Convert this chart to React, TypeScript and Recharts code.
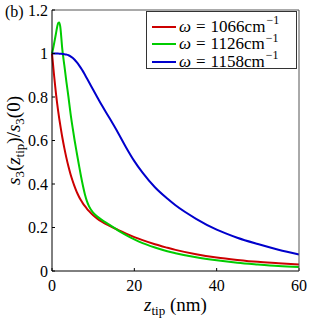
import React from 'react';
import { LineChart, Line, XAxis, YAxis, Legend, Label, Customized } from 'recharts';

const FONT = '"Liberation Serif", "DejaVu Serif", serif';

const zTip = [0, 0.25, 0.5, 0.75, 1, 1.25, 1.5, 1.75, 2, 2.5, 3, 3.5, 4, 4.5, 5, 5.5, 6, 6.5, 7, 7.5, 8, 8.5, 9, 10, 11, 12, 14, 16, 18, 20, 22, 25, 28, 30, 35, 40, 45, 50, 55, 60];
const s1066 = [1.0, 0.95, 0.9, 0.854, 0.81, 0.771, 0.735, 0.702, 0.672, 0.615, 0.565, 0.52, 0.48, 0.445, 0.415, 0.388, 0.364, 0.344, 0.326, 0.311, 0.298, 0.286, 0.275, 0.256, 0.241, 0.228, 0.207, 0.189, 0.172, 0.156, 0.142, 0.123, 0.107, 0.097, 0.077, 0.062, 0.051, 0.042, 0.036, 0.03];
const s1126 = [1.0, 1.02, 1.045, 1.07, 1.096, 1.122, 1.14, 1.143, 1.125, 1.02, 0.945, 0.87, 0.8, 0.725, 0.66, 0.6, 0.545, 0.492, 0.44, 0.393, 0.352, 0.32, 0.297, 0.268, 0.25, 0.236, 0.212, 0.187, 0.165, 0.145, 0.128, 0.108, 0.091, 0.082, 0.063, 0.049, 0.038, 0.03, 0.023, 0.018];
const s1158 = [1.0, 1.0, 1.0, 1.0, 1.0, 1.0, 1.0, 0.999, 0.999, 0.998, 0.997, 0.995, 0.992, 0.987, 0.98, 0.971, 0.96, 0.948, 0.934, 0.919, 0.902, 0.885, 0.868, 0.833, 0.799, 0.765, 0.702, 0.637, 0.568, 0.505, 0.452, 0.385, 0.333, 0.302, 0.24, 0.19, 0.153, 0.124, 0.098, 0.076];

const xTicks = [0, 20, 40, 60];
const yTicks = [0, 0.2, 0.4, 0.6, 0.8, 1, 1.2];
const omegaLabels = ['1066', '1126', '1158'];
const seriesKeys = ['w1066', 'w1126', 'w1158'];
const seriesColors = ['#cc0000', '#00cc00', '#0000cc'];

const data = zTip.map((z, i) => ({ z, w1066: s1066[i], w1126: s1126[i], w1158: s1158[i] }));

const XLabel = (props: any) => {
  const vb = props.viewBox || {};
  const cx = vb.x + vb.width / 2;
  const y = vb.y + 40;
  return (
    <text x={cx} y={y} textAnchor="middle" style={{ fontFamily: FONT, fontSize: 19 }} fill="#000">
      <tspan fontStyle="italic">z</tspan>
      <tspan fontSize={13} dy={4}>tip</tspan>
      <tspan dy={-4}>{'\u00A0(nm)'}</tspan>
    </text>
  );
};

const YLabel = (props: any) => {
  const vb = props.viewBox || {};
  const cy = vb.y + vb.height / 2;
  const x = 19.5;
  return (
    <text x={x} y={cy} transform={`rotate(-90 ${x} ${cy})`} textAnchor="middle" style={{ fontFamily: FONT, fontSize: 19 }} fill="#000">
      <tspan fontStyle="italic">s</tspan>
      <tspan fontSize={13} dy={4}>3</tspan>
      <tspan dy={-4}>(</tspan>
      <tspan fontStyle="italic">z</tspan>
      <tspan fontSize={13} dy={4}>tip</tspan>
      <tspan dy={-4}>)/</tspan>
      <tspan fontStyle="italic">s</tspan>
      <tspan fontSize={13} dy={4}>3</tspan>
      <tspan dy={-4}>(0)</tspan>
    </text>
  );
};

const renderLegend = () => (
  <div
    style={{
      width: 151,
      height: 58,
      boxSizing: 'border-box',
      border: '1px solid #333',
      background: '#fff',
      paddingTop: 6,
      fontFamily: FONT,
      fontSize: 17,
      color: '#000',
    }}
  >
    {omegaLabels.map((w, i) => (
      <div key={w} style={{ height: 17.5, display: 'flex', alignItems: 'center', whiteSpace: 'nowrap' }}>
        <span style={{ display: 'inline-block', width: 24, height: 2, background: seriesColors[i], marginLeft: 5, marginRight: 3 }} />
        <span style={{ fontStyle: 'italic' }}>ω</span>
        <span style={{ margin: '0 5px' }}>=</span>
        <span>{w}cm</span>
        <span style={{ fontSize: 12, position: 'relative', top: -6, marginLeft: 1 }}>−1</span>
      </div>
    ))}
  </div>
);

const PanelTag = () => (
  <text x={5} y={17} style={{ fontFamily: FONT, fontSize: 16 }} fill="#000">(b)</text>
);

export default function App() {
  const tickStyle = { fill: '#000', fontSize: 16, fontFamily: FONT };
  return (
    <div style={{ position: 'absolute', left: 0, top: 0, width: 319, height: 319, background: '#fff' }}>
      <LineChart width={319} height={319} data={data} margin={{ top: 9, right: 19, bottom: 47, left: 51 }}>
        <XAxis
          xAxisId="b"
          dataKey="z"
          type="number"
          domain={[0, 60]}
          ticks={xTicks}
          interval={0}
          height={1}
          tickSize={-3}
          tickMargin={12}
          axisLine={{ stroke: '#000' }}
          tickLine={{ stroke: '#000' }}
          tick={tickStyle}
        >
          <Label content={XLabel} />
        </XAxis>
        <XAxis
          xAxisId="t"
          orientation="top"
          dataKey="z"
          type="number"
          domain={[0, 60]}
          ticks={xTicks}
          interval={0}
          height={1}
          tickSize={-3}
          axisLine={{ stroke: '#555' }}
          tickLine={{ stroke: '#555' }}
          tick={false}
        />
        <YAxis
          yAxisId="l"
          type="number"
          domain={[0, 1.2]}
          ticks={yTicks}
          interval={0}
          width={1}
          tickSize={-3}
          tickMargin={7}
          axisLine={{ stroke: '#000' }}
          tickLine={{ stroke: '#000' }}
          tick={tickStyle}
        >
          <Label content={YLabel} />
        </YAxis>
        <YAxis
          yAxisId="r"
          orientation="right"
          type="number"
          domain={[0, 1.2]}
          ticks={yTicks}
          interval={0}
          width={1}
          tickSize={-3}
          axisLine={{ stroke: '#555' }}
          tickLine={{ stroke: '#555' }}
          tick={false}
        />
        {seriesKeys.map((k, i) => (
          <Line
            key={k}
            xAxisId="b"
            yAxisId="l"
            type="monotone"
            dataKey={k}
            stroke={seriesColors[i]}
            strokeWidth={2}
            dot={false}
            activeDot={false}
            isAnimationActive={false}
          />
        ))}
        <Legend
          verticalAlign="middle"
          layout="horizontal"
          content={renderLegend}
          wrapperStyle={{ position: 'absolute', left: 146, top: 11, width: 151, height: 58, margin: 0, padding: 0 }}
        />
        <Customized component={PanelTag} />
      </LineChart>
    </div>
  );
}
